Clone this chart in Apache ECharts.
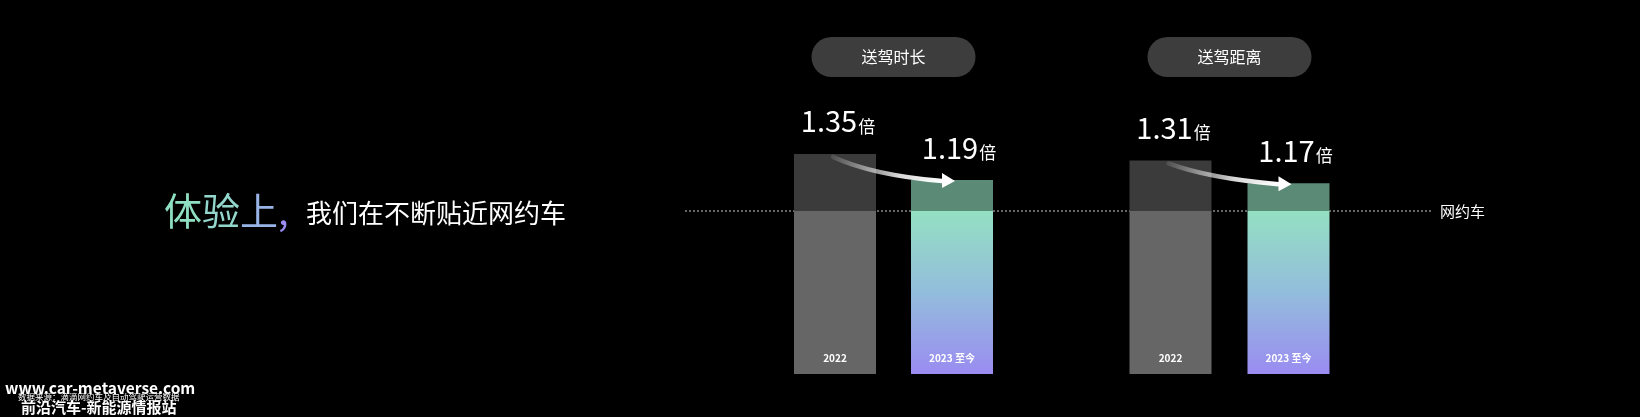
<!DOCTYPE html>
<html><head><meta charset="utf-8">
<script src="https://cdn.jsdelivr.net/npm/echarts@6/dist/echarts.min.js"></script>
<style>html,body{margin:0;padding:0;background:#000;}#c{width:1640px;height:417px;}</style>
</head><body><div id="c"></div>
<script>
const groups = ['送驾时长', '送驾距离'];
const years = ['2022', '2023 至今'];
const durationValues = [1.35, 1.19];
const distanceValues = [1.31, 1.17];
const baseline = 1;            // 网约车 = 1
const baselineName = '网约车';
const headline = '体验上,';
const subline = '我们在不断贴近网约车';
const site = 'www.car-metaverse.com';
const source = '数据来源：滴滴网约车及自动驾驶运营数据';
const brand = '前沿汽车-新能源情报站';

const FONT = '"Noto Sans CJK SC", "Noto Sans", sans-serif';
const grad2023 = {type:'linear',x:0,y:0,x2:0,y2:1,colorStops:[
  {offset:0,color:'#94e0c2'},{offset:0.5,color:'#93bddc'},{offset:1,color:'#9a8cf1'}]};
const baseColors = ['#666666', grad2023];
const topColors = ['#3b3b3b', '#5b8a77'];
const headColors = ['#8fe0c2', '#92d6cc', '#98b4e6', '#9a8cf1'];

const chart = echarts.init(document.getElementById('c'));

function seriesFor(vals, idx) {
  return [
    {
      type:'bar', xAxisIndex:idx, yAxisIndex:idx, stack:'s'+idx, barWidth:82,
      data: vals.map((v,i)=>({value:Math.min(v,baseline), itemStyle:{color:baseColors[i]}})),
      label:{show:true, position:'insideBottom', distance:11, color:'#fff', fontSize:10, fontWeight:'bold',
        fontFamily:FONT, formatter:p=>years[p.dataIndex]},
      silent:true
    },
    {
      type:'bar', xAxisIndex:idx, yAxisIndex:idx, stack:'s'+idx, barWidth:82,
      data: vals.map((v,i)=>({value:Math.max(v-baseline,0), itemStyle:{color:topColors[i]},
        label:{offset:[i===0?3:7,0]}})),
      label:{show:true, position:'top', distance:18, fontFamily:FONT,
        formatter:p=>'{v|'+vals[p.dataIndex].toFixed(2)+'}{u|倍}',
        rich:{v:{fontSize:29,color:'#fff',fontFamily:FONT,verticalAlign:'bottom'},
              u:{fontSize:17,color:'#fff',fontFamily:FONT,verticalAlign:'bottom',padding:[0,0,1,1]}}},
      silent:true
    }
  ];
}

const gridDefs = [{left:776.5,width:234},{left:1111.5,width:236}];
const option = {
  backgroundColor:'#000',
  animation:false,
  grid: gridDefs.map(g=>({left:g.left,width:g.width,top:48,bottom:43})),
  xAxis: [0,1].map(i=>({type:'category',gridIndex:i,data:years,show:false})),
  yAxis: [0,1].map(i=>({type:'value',gridIndex:i,min:0,max:2,show:false})),
  series: [...seriesFor(durationValues,0), ...seriesFor(distanceValues,1)]
};
chart.setOption(option);

// decorations positioned from the axes
const yBase = chart.convertToPixel({yAxisIndex:0}, baseline);
const graphics = [];
// pills
[0,1].forEach(i=>{
  const cx = gridDefs[i].left + gridDefs[i].width/2;
  graphics.push({type:'rect',shape:{x:cx-82,y:37,width:164,height:40,r:20},style:{fill:'#3d3d3d'}});
  graphics.push({type:'text',x:cx,y:57,style:{text:groups[i],fill:'#fff',font:'16px '+FONT,align:'center',verticalAlign:'middle'}});
});
// baseline dotted line
graphics.push({type:'line',shape:{x1:685,y1:yBase,x2:1432,y2:yBase},
  style:{stroke:'rgba(255,255,255,0.8)',lineWidth:1,lineDash:[2,2]}});
graphics.push({type:'text',x:1440,y:yBase,style:{text:baselineName,fill:'#fff',font:'15px '+FONT,verticalAlign:'middle'}});
// arrows
[durationValues, distanceValues].forEach((vals,i)=>{
  const p0 = chart.convertToPixel({xAxisIndex:i,yAxisIndex:i},[0, vals[0]]);
  const p1 = chart.convertToPixel({xAxisIndex:i,yAxisIndex:i},[1, vals[1]]);
  const x0 = p0[0]-2, y0 = p0[1]+3;
  const tipX = p1[0]+3, tipY = p1[1]+1;
  const x1 = tipX-13, y1 = tipY;
  const cx = x0 + 0.36*(x1-x0), cy = y1 - 6;
  graphics.push({type:'bezierCurve',z:100,shape:{x1:x0,y1:y0,x2:x1,y2:y1,cpx1:cx,cpy1:cy},
    style:{fill:null,lineWidth:4.5,lineCap:'round',stroke:{type:'linear',x:0,y:0,x2:1,y2:0,colorStops:[
      {offset:0,color:'rgba(255,255,255,0.1)'},{offset:0.6,color:'rgba(255,255,255,0.85)'},{offset:1,color:'rgba(255,255,255,1)'}]}}});
  graphics.push({type:'polygon',z:100,shape:{points:[[x1,y1-8],[tipX,tipY],[x1,y1+7]]},style:{fill:'#fff'}});
});
// left headline (per-character gradient colours)
const headRich = {};
headColors.forEach((c,k)=>{ headRich['c'+k] = {fontSize:38,fontFamily:FONT,fill:c}; });
const headText = Array.from(headline).map((ch,k)=>'{c'+Math.min(k,headColors.length-1)+'|'+ch+'}').join('');
graphics.push({type:'text',z:100,x:164,y:211,style:{text:headText,rich:headRich,fill:'#8fe0c2',font:'38px '+FONT,verticalAlign:'middle'}});
graphics.push({type:'text',z:100,x:306,y:213,style:{text:subline,fill:'#fff',font:'26px '+FONT,verticalAlign:'middle'}});
// footer
graphics.push({type:'text',z:100,x:5,y:388,style:{text:site,fill:'#fff',font:'bold 15.5px '+FONT,verticalAlign:'middle'}});
graphics.push({type:'text',z:100,x:18,y:397,style:{text:source,fill:'#fff',font:'8.5px '+FONT,verticalAlign:'middle'}});
graphics.push({type:'text',z:100,x:21,y:407,style:{text:brand,fill:'#fff',font:'bold 15px '+FONT,verticalAlign:'middle'}});

chart.setOption({graphic:graphics});
</script></body></html>
